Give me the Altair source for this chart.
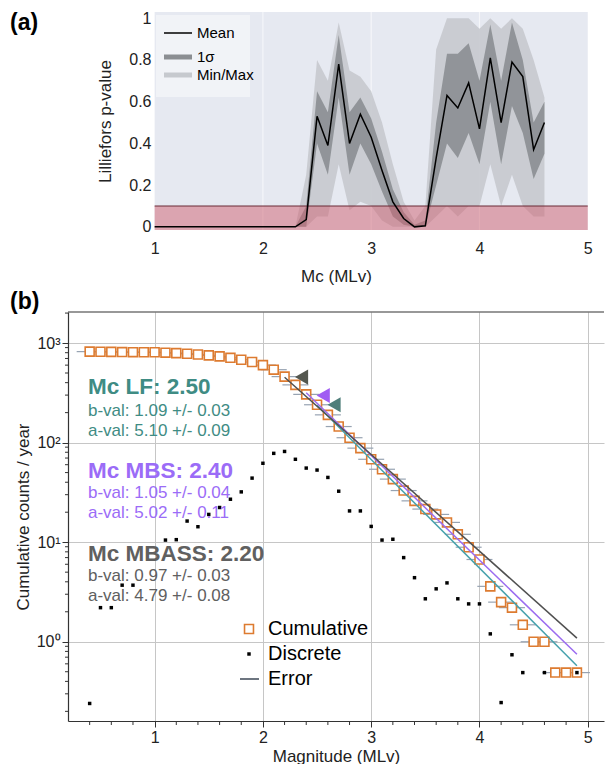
import altair as alt
import pandas as pd

# ---------------- panel (a): Lilliefors p-value vs Mc ----------------
mc_steps = [1.0, 1.1, 1.2, 1.3, 1.4, 1.5, 1.6, 1.7, 1.8, 1.9, 2.0, 2.1, 2.2, 2.3,
            2.4, 2.5, 2.6, 2.7, 2.8, 2.9, 3.0, 3.1, 3.2, 3.3, 3.4, 3.5, 3.6, 3.7,
            3.8, 3.9, 4.0, 4.1, 4.2, 4.3, 4.4, 4.5, 4.6]
p_mean = [0, 0, 0, 0, 0, 0, 0, 0, 0, 0, 0, 0, 0, 0,
          0.035, 0.53, 0.39, 0.78, 0.40, 0.54, 0.43, 0.27, 0.12, 0.04,
          0.0, 0.005, 0.33, 0.63, 0.57, 0.69, 0.47, 0.81, 0.50, 0.79,
          0.72, 0.37, 0.50]
p_sig_lo = [0, 0, 0, 0, 0, 0, 0, 0, 0, 0, 0, 0, 0, 0,
            0.0, 0.40, 0.25, 0.62, 0.25, 0.40, 0.30, 0.17, 0.05, 0.01,
            0.0, 0.0, 0.20, 0.40, 0.33, 0.45, 0.30, 0.60, 0.30, 0.58,
            0.45, 0.23, 0.35]
p_sig_hi = [0, 0, 0, 0, 0, 0, 0, 0, 0, 0, 0, 0, 0, 0,
            0.10, 0.65, 0.55, 0.92, 0.55, 0.62, 0.52, 0.36, 0.18, 0.07,
            0.01, 0.03, 0.50, 0.83, 0.83, 0.88, 0.70, 0.97, 0.70, 0.98,
            0.80, 0.50, 0.60]
p_min = [0, 0, 0, 0, 0, 0, 0, 0, 0, 0, 0, 0, 0, 0,
         0.0, 0.05, 0.05, 0.30, 0.08, 0.12, 0.10, 0.03, 0.0, 0.0,
         0.0, 0.0, 0.05, 0.10, 0.05, 0.10, 0.10, 0.30, 0.10, 0.25,
         0.10, 0.05, 0.05]
p_max = [0, 0, 0, 0, 0, 0, 0, 0, 0, 0, 0, 0, 0, 0,
         0.25, 0.80, 0.70, 0.98, 0.75, 0.72, 0.65, 0.50, 0.30, 0.12,
         0.03, 0.10, 0.85, 1.0, 1.0, 1.0, 0.95, 1.0, 0.95, 1.0,
         0.95, 0.80, 0.62]
p_threshold = 0.1
a_xrange = [1, 5]
a_ticks_y = [0, 0.2, 0.4, 0.6, 0.8, 1]
a_ticks_x = [1, 2, 3, 4, 5]
a_grid_x = [2, 3, 4]

# ---------------- panel (b): frequency-magnitude distribution ----------------
cum_mag = [0.4, 0.5, 0.6, 0.7, 0.8, 0.9, 1.0, 1.1, 1.2, 1.3, 1.4, 1.5, 1.6, 1.7,
           1.8, 1.9, 2.0, 2.1, 2.2, 2.3, 2.4, 2.5, 2.6, 2.7, 2.8, 2.9, 3.0, 3.1,
           3.2, 3.3, 3.4, 3.5, 3.6, 3.7, 3.8, 3.9, 4.0, 4.1, 4.2, 4.3, 4.4, 4.5,
           4.6, 4.7, 4.8, 4.9]
cum_rate = [820, 818, 815, 812, 810, 808, 808, 800, 792, 780, 768, 752, 735, 710,
            680, 645, 600, 540, 460, 380, 305, 240, 190, 145, 112, 88, 68, 54,
            43, 33, 26, 21.5, 19, 15.8, 12, 8.9, 6.7, 3.6, 2.5, 2.2, 1.48, 1.0,
            1.0, 0.49, 0.49, 0.49]
mag_err = 0.12

disc_mag = [0.4, 0.5, 0.6, 0.7, 0.8, 1.1, 1.2, 1.3, 1.4, 1.5, 1.6, 1.7, 1.8, 1.9,
            2.0, 2.1, 2.2, 2.3, 2.4, 2.5, 2.6, 2.7, 2.8, 2.9, 3.0, 3.1, 3.2, 3.3,
            3.4, 3.5, 3.6, 3.7, 3.8, 3.9, 4.0, 4.1, 4.2, 4.3, 4.4, 4.6, 4.9]
disc_rate = [0.24, 2.2, 2.2, 3.7, 3.7, 10.5, 10.6, 16.3, 14.3, 19, 22.3, 27, 32, 44,
             62, 78, 81.5, 68, 55.5, 53, 44.7, 32.5, 20.6, 20.6, 14.4, 10.5, 10.7, 7.0,
             4.4, 2.7, 3.4, 3.9, 2.7, 2.4, 2.4, 1.2, 0.245, 0.74, 0.49, 0.49, 0.49]

fit_names = ["LF", "MBS", "MBASS"]
fit_mc = [2.50, 2.40, 2.20]
fit_b = [1.09, 1.05, 0.97]
fit_b_err = [0.03, 0.04, 0.03]
fit_a = [5.10, 5.02, 4.79]
fit_a_err = [0.09, 0.11, 0.08]
fit_end = 4.9
tri_rate = [240, 297, 455]
fit_line_colors = ["#46a2ad", "#9b6cf0", "#505050"]
fit_text_colors = ["#3f8c84", "#9b6cf7", "#606060"]
tri_colors = ["#4f7e7a", "#a05cf2", "#54574f"]

b_ticks_x = [1, 2, 3, 4, 5]
b_ticks_y = [1, 10, 100, 1000]
b_minor_x = [0.4, 0.6, 0.8, 1.2, 1.4, 1.6, 1.8, 2.2, 2.4, 2.6, 2.8, 3.2, 3.4,
             3.6, 3.8, 4.2, 4.4, 4.6, 4.8]
b_minor_y = [0.2, 0.3, 0.4, 0.5, 0.6, 0.7, 0.8, 0.9, 2, 3, 4, 5, 6, 7, 8, 9,
             20, 30, 40, 50, 60, 70, 80, 90, 200, 300, 400, 500, 600, 700, 800,
             900, 2000]

FONT = "Liberation Sans"
W = 536
HA = 218
HB = 409
X_DOM = [0.2, 5.15]

xs = alt.Scale(domain=X_DOM, nice=False, zero=False)
ya = alt.Scale(domain=[-0.015, 1.03], nice=False, zero=False)
yb = alt.Scale(type="log", domain=[0.16, 2050], nice=False)

one = alt.Data(values=[{}])


def txt(s, x, y, size, color="black", weight="normal", align="left"):
    return alt.Chart(one).mark_text(
        text=s, align=align, baseline="middle", fontSize=size, font=FONT,
        fontWeight=weight, color=color
    ).encode(x=alt.value(x), y=alt.value(y))


# ---------- build panel (a) ----------
dfa = pd.DataFrame(dict(m=mc_steps, mean=p_mean, lo=p_sig_lo, hi=p_sig_hi,
                        mn=p_min, mx=p_max))
band_df = pd.DataFrame(dict(x=[a_xrange[0]], x2=[a_xrange[1]], t=[p_threshold]))

bg = alt.Chart(band_df).mark_rect(color="#e6e9f1").encode(
    x=alt.X("x:Q", scale=xs), x2="x2:Q", y=alt.value(0), y2=alt.value(HA))

grid_a = alt.Chart(pd.DataFrame(dict(g=a_grid_x))).mark_rule(
    color="white", strokeWidth=1.2, opacity=0.6).encode(
    x=alt.X("g:Q", scale=xs), y=alt.value(0), y2=alt.value(HA))

minmax = alt.Chart(dfa).mark_area(color="#c6c9ce", opacity=0.9).encode(
    x=alt.X("m:Q", scale=xs,
            axis=alt.Axis(values=a_ticks_x, format="d", title="Mc (MLv)",
                          domain=False, ticks=False, grid=False,
                          labelPadding=10, titlePadding=12)),
    y=alt.Y("mn:Q", scale=ya,
            axis=alt.Axis(values=a_ticks_y, format="~g", title="Lilliefors p-value",
                          domain=False, ticks=False, grid=False, offset=-87,
                          labelPadding=4, titlePadding=14)),
    y2="mx:Q")

sigma = alt.Chart(dfa).mark_area(color="#8b8e92", opacity=0.9).encode(
    x=alt.X("m:Q", scale=xs), y=alt.Y("lo:Q", scale=ya), y2="hi:Q")

red = alt.Chart(band_df).mark_rect(color="#cf5f70", opacity=0.5).encode(
    x=alt.X("x:Q", scale=xs), x2="x2:Q", y=alt.Y("t:Q", scale=ya), y2=alt.value(HA))

thr = alt.Chart(band_df).mark_rule(color="#6a2a36", strokeWidth=1).encode(
    x=alt.X("x:Q", scale=xs), x2="x2:Q", y=alt.Y("t:Q", scale=ya))

mean_line = alt.Chart(dfa).mark_line(color="black", strokeWidth=1.5).encode(
    x=alt.X("m:Q", scale=xs), y=alt.Y("mean:Q", scale=ya))

leg_box = alt.Chart(one).mark_rect(color="white", opacity=0.45).encode(
    x=alt.value(88), x2=alt.value(182), y=alt.value(3), y2=alt.value(85))
leg_mean = alt.Chart(one).mark_rule(color="black", strokeWidth=1.5).encode(
    x=alt.value(96), x2=alt.value(124), y=alt.value(21))
leg_sig = alt.Chart(one).mark_rule(color="#8b8e92", strokeWidth=5).encode(
    x=alt.value(96), x2=alt.value(124), y=alt.value(45))
leg_mm = alt.Chart(one).mark_rule(color="#c6c9ce", strokeWidth=5).encode(
    x=alt.value(96), x2=alt.value(124), y=alt.value(63))

panel_a = alt.layer(
    bg, grid_a, minmax, sigma, red, thr, mean_line,
    leg_box, leg_mean, leg_sig, leg_mm,
    txt("Mean", 129, 21, 15), txt("1σ", 129, 45, 15), txt("Min/Max", 129, 63, 15),
    txt("(a)", -58, 11, 23, weight="bold"),
).properties(width=W, height=HA)

# ---------- build panel (b) ----------
dfc = pd.DataFrame(dict(m=cum_mag, n=cum_rate))
dfd = pd.DataFrame(dict(m=disc_mag, n=disc_rate))

fit_rows = []
for i, name in enumerate(fit_names):
    for m in (fit_mc[i], fit_end):
        fit_rows.append(dict(fit=name, m=m, a=fit_a[i], b=fit_b[i]))
dff = pd.DataFrame(fit_rows)
dft = pd.DataFrame(dict(fit=fit_names, m=fit_mc, n=tri_rate))

sup = "datum.value == 1 ? '10⁰' : datum.value == 10 ? '10¹' : datum.value == 100 ? '10²' : '10³'"

err = alt.Chart(dfc).transform_calculate(
    lo=f"datum.m - {mag_err}", hi=f"datum.m + {mag_err}"
).mark_rule(color="#97a3b2", strokeWidth=1.2).encode(
    x=alt.X("lo:Q", scale=xs,
            axis=alt.Axis(values=b_ticks_x, format="d", title="Magnitude (MLv)",
                          domainColor="#333333", domainWidth=1.2,
                          tickColor="#333333", tickSize=6,
                          grid=True, gridColor="#c6c6c6",
                          labelPadding=2, titleY=27, titleBaseline="top")),
    x2="hi:Q",
    y=alt.Y("n:Q", scale=yb,
            axis=alt.Axis(values=b_ticks_y, labelExpr=sup,
                          title="Cumulative counts / year",
                          domainColor="#333333", domainWidth=1.2,
                          tickColor="#333333", tickSize=6,
                          grid=True, gridColor="#c6c6c6",
                          labelPadding=2, titlePadding=4)))

cum = alt.Chart(dfc).mark_square(fill="white", stroke="#dd7b30", strokeWidth=1.6,
                                 size=80, opacity=1).encode(
    x=alt.X("m:Q", scale=xs), y=alt.Y("n:Q", scale=yb))

fits = alt.Chart(dff).transform_calculate(
    n="pow(10, datum.a - datum.b * datum.m)"
).mark_line(strokeWidth=1.5).encode(
    x=alt.X("m:Q", scale=xs), y=alt.Y("n:Q", scale=yb),
    color=alt.Color("fit:N", scale=alt.Scale(domain=fit_names, range=fit_line_colors),
                    legend=None),
    detail="fit:N")

disc = alt.Chart(dfd).mark_square(color="black", size=12, opacity=1).encode(
    x=alt.X("m:Q", scale=xs), y=alt.Y("n:Q", scale=yb))

tris = alt.Chart(dft).mark_point(shape="triangle-left", filled=True, size=230,
                                 opacity=1, xOffset=17).encode(
    x=alt.X("m:Q", scale=xs), y=alt.Y("n:Q", scale=yb),
    color=alt.Color("fit:N", scale=alt.Scale(domain=fit_names, range=tri_colors),
                    legend=None))

minor_y = alt.Chart(pd.DataFrame(dict(v=b_minor_y))).mark_rule(color="#333333").encode(
    y=alt.Y("v:Q", scale=yb), x=alt.value(-3), x2=alt.value(0))
minor_x = alt.Chart(pd.DataFrame(dict(v=b_minor_x))).mark_rule(color="#333333").encode(
    x=alt.X("v:Q", scale=xs), y=alt.value(HB), y2=alt.value(HB + 4))
top_frame = alt.Chart(one).mark_rule(color="#333333", strokeWidth=1.2).encode(
    x=alt.value(0), x2=alt.value(W), y=alt.value(0))

annots = []
ys = [(75, 98.5, 118.5), (158.5, 181, 201), (242, 263.5, 283.5)]
for i, name in enumerate(fit_names):
    y0, y1, y2 = ys[i]
    c = fit_text_colors[i]
    annots.append(txt(f"Mc {name}: {fit_mc[i]:.2f}", 20, y0, 22.5, c, "bold"))
    annots.append(txt(f"b-val: {fit_b[i]:.2f} +/- {fit_b_err[i]:.2f}", 20, y1, 17, c))
    annots.append(txt(f"a-val: {fit_a[i]:.2f} +/- {fit_a_err[i]:.2f}", 20, y2, 17, c))

leg_sq = alt.Chart(one).mark_square(fill="white", stroke="#dd7b30", strokeWidth=1.6,
                                    size=80, opacity=1).encode(
    x=alt.value(181), y=alt.value(317))
leg_dot = alt.Chart(one).mark_square(color="black", size=12, opacity=1).encode(
    x=alt.value(181), y=alt.value(342))
leg_err = alt.Chart(one).mark_rule(color="#6d7580", strokeWidth=2).encode(
    x=alt.value(172), x2=alt.value(191), y=alt.value(367))

panel_b = alt.layer(
    err, cum, fits, disc, tris, minor_y, minor_x, top_frame,
    *annots, leg_sq, leg_dot, leg_err,
    txt("Cumulative", 200, 317, 20), txt("Discrete", 200, 342, 20),
    txt("Error", 200, 367, 20),
    txt("(b)", -58, -10, 23, weight="bold"),
).resolve_scale(color="independent").properties(width=W, height=HB)

chart = alt.vconcat(panel_a, panel_b, spacing=7).configure(
    padding={"left": 2, "top": 2, "right": 0, "bottom": 0}, font=FONT
).configure_view(stroke=None).configure_axis(
    labelFont=FONT, titleFont=FONT, labelFontSize=16, titleFontSize=17,
    titleFontWeight="normal", labelColor="#222222", titleColor="#222222"
)

chart.save("out.html", embed_options={"renderer": "svg", "actions": False})
